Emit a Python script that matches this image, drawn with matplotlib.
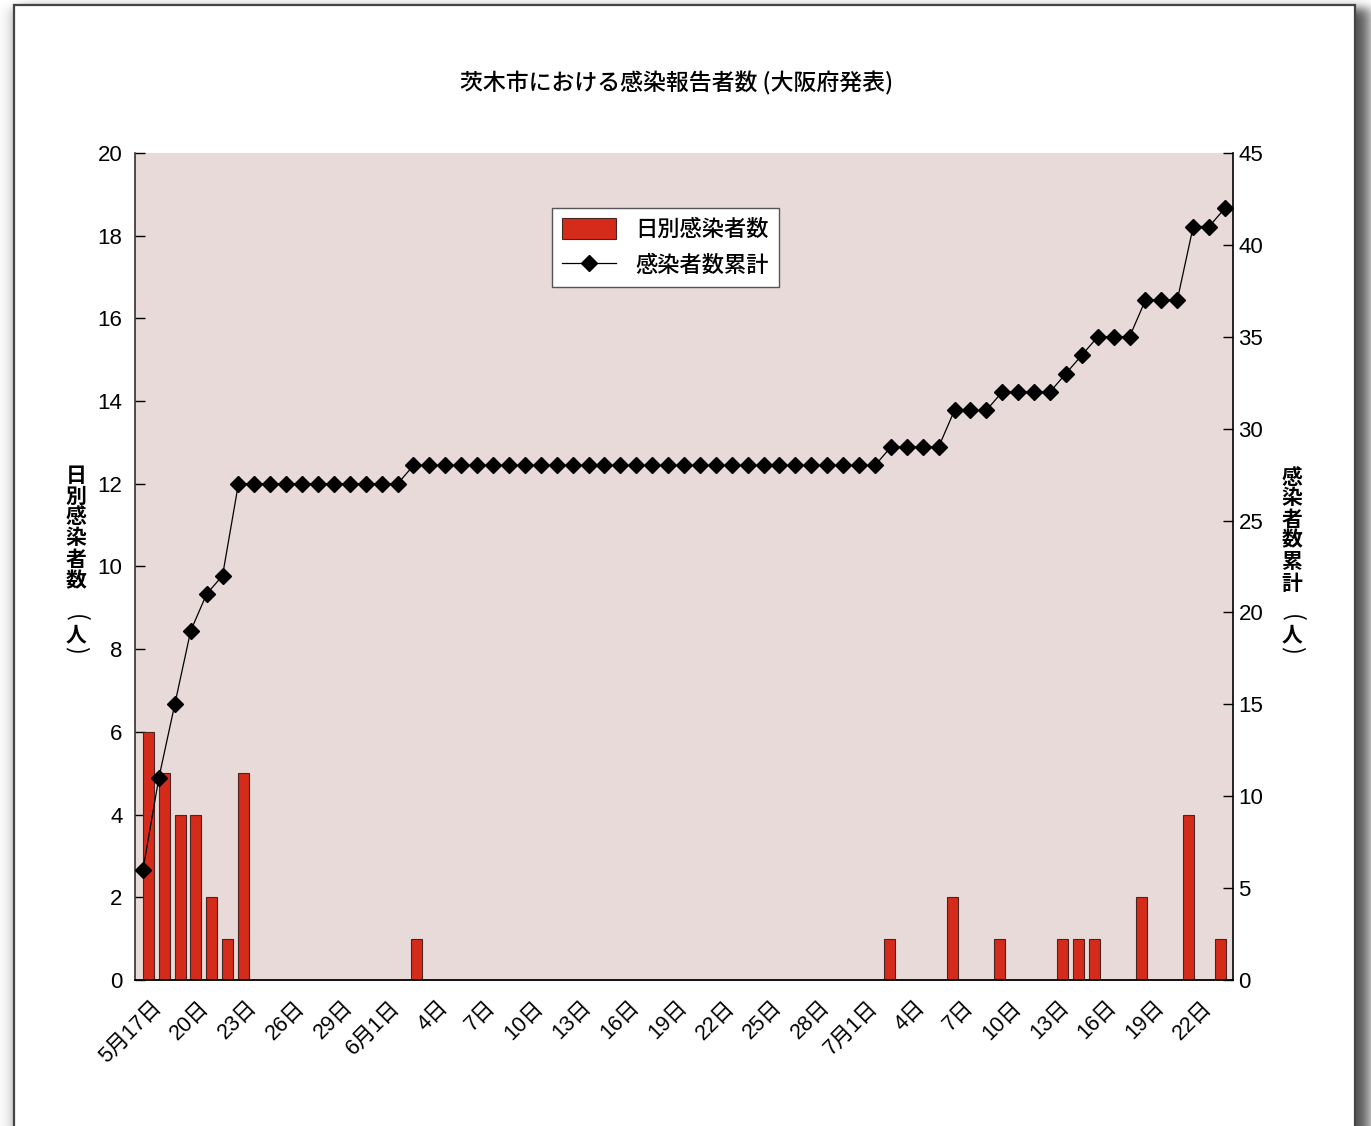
import numpy as np
import matplotlib
matplotlib.use("Agg")
import matplotlib.pyplot as plt
from matplotlib.patches import Rectangle
from matplotlib.lines import Line2D
from matplotlib.transforms import ScaledTranslation

plt.rcParams['font.family'] = ['Liberation Sans', 'Noto Sans CJK JP', 'DejaVu Sans']

# ---- data ---------------------------------------------------------------
title = '茨木市における感染報告者数 (大阪府発表)'
daily_name = '日別感染者数'
cum_name = '感染者数累計'
left_label = ['日', '別', '感', '染', '者', '数']
right_label = ['感', '染', '者', '数', '累', '計']

# daily reported cases, 5/17 .. 7/24
daily_cases = [6, 5, 4, 4, 2, 1, 5,
               0, 0, 0, 0, 0, 0, 0, 0, 0, 0,
               1,
               0, 0, 0, 0, 0, 0, 0, 0, 0, 0, 0, 0, 0, 0, 0, 0, 0, 0, 0, 0,
               0, 0, 0, 0, 0, 0, 0, 0, 0,
               1, 0, 0, 0, 2, 0, 0, 1, 0, 0, 0, 1, 1, 1, 0, 0, 2, 0, 0,
               4, 0, 1]

# cumulative total, 5/17 .. 7/24
cumulative = [6, 11, 15, 19, 21, 22,
              27, 27, 27, 27, 27, 27, 27, 27, 27, 27, 27,
              28, 28, 28, 28, 28, 28, 28, 28, 28, 28, 28, 28, 28, 28, 28,
              28, 28, 28, 28, 28, 28, 28, 28, 28, 28, 28, 28, 28, 28, 28,
              29, 29, 29, 29, 31, 31, 31, 32, 32, 32, 32, 33, 34, 35, 35, 35,
              37, 37, 37, 41, 41, 42]

tick_labels = ['5月17日', '20日', '23日', '26日', '29日', '6月1日', '4日', '7日',
               '10日', '13日', '16日', '19日', '22日', '25日', '28日', '7月1日',
               '4日', '7日', '10日', '13日', '16日', '19日', '22日']

left_ticks = [0, 2, 4, 6, 8, 10, 12, 14, 16, 18, 20]
right_ticks = [0, 5, 10, 15, 20, 25, 30, 35, 40, 45]

days = np.arange(len(daily_cases))

# ---- figure -------------------------------------------------------------
W, H = 1371, 1126
fig = plt.figure(figsize=(W / 100, H / 100), dpi=100)


def fx(px):
    return px / W


def fy(py):
    return 1 - py / H


# page with a soft drop shadow
bg = fig.add_axes([0, 0, 1, 1], zorder=0)
bg.set_xlim(0, W)
bg.set_ylim(H, 0)
bg.axis('off')
xx = np.arange(W) + 0.5
yy = np.arange(H) + 0.5
sx = 0.5 * (np.tanh((xx - 18) / 10) - np.tanh((xx - 1369) / 10))
sy = 0.5 * (np.tanh((yy - 8) / 6) + 1)
alpha = 0.72 * np.outer(sy, sx)
shadow = np.zeros((H, W, 4))
shadow[..., 3] = alpha
bg.imshow(shadow, extent=(0, W, H, 0), interpolation='bilinear', zorder=0)
bg.add_patch(Rectangle((14, 5), 1341, 1300, facecolor='white',
                       edgecolor='#444444', lw=1.6, zorder=1))

rect = [fx(135), fy(980), fx(1233) - fx(135), fy(153) - fy(980)]

# bars: daily counts
ax = fig.add_axes(rect, zorder=1)
ax.set_facecolor('#E8DAD8')
ax.bar(days, daily_cases, width=0.7, align='edge', color='#D52B1A',
       edgecolor='#4a2420', linewidth=0.8, zorder=2)
ax.set_xlim(-0.51, 69.16)
ax.set_ylim(0, 20)
ax.set_yticks(left_ticks)
ax.set_xticks([])
for s in ('top', 'right'):
    ax.spines[s].set_visible(False)
ax.spines['left'].set_color('#222222')
ax.spines['left'].set_linewidth(1.1)
ax.spines['bottom'].set_linewidth(1.3)
ax.tick_params(axis='y', direction='in', length=7, width=1.0,
               labelsize=16, pad=9)

# line: cumulative total
ax2 = fig.add_axes(rect, zorder=2)
ax2.set_facecolor('none')
line, = ax2.plot(days, cumulative, color='black', lw=0.9, marker='D',
                 ms=8.5, mfc='black', mec='black', zorder=3)
ax2.set_xlim(-0.5, 68.5)
ax2.set_ylim(0, 45)
ax2.yaxis.set_ticks_position('right')
ax2.set_yticks(right_ticks)
for s in ('top', 'left', 'bottom'):
    ax2.spines[s].set_visible(False)
ax2.spines['right'].set_linewidth(1.2)
ax2.tick_params(axis='y', direction='in', length=7, width=1.0,
                labelsize=16, pad=4)
ax2.set_xticks(days[::3])
ax2.set_xticklabels(tick_labels, rotation=45, ha='right', va='top',
                    fontsize=15.5)
ax2.tick_params(axis='x', length=0, pad=12)
shift = ScaledTranslation(23 / 100, 0, fig.dpi_scale_trans)
for lab in ax2.get_xticklabels():
    lab.set_transform(lab.get_transform() + shift)

# legend
bar_handle = Rectangle((0, 0), 1, 1, facecolor='#D52B1A', edgecolor='#4a2420',
                       linewidth=0.8)
line_handle = Line2D([], [], color='black', lw=0.9, marker='D', ms=8.5,
                     mfc='black', mec='black')
leg = ax2.legend([bar_handle, line_handle], [daily_name, cum_name],
                 loc='upper left', bbox_to_anchor=(fx(552), fy(208)),
                 bbox_transform=fig.transFigure, borderaxespad=0,
                 prop={'family': 'Noto Sans CJK JP', 'size': 16,
                       'weight': 'medium'},
                 handlelength=2.45, handleheight=1.05, handletextpad=0.85,
                 labelspacing=0.6, borderpad=0.45, fancybox=False,
                 framealpha=1, edgecolor='#555555')
leg.get_frame().set_linewidth(1.0)

# title
fig.text(fx(677), fy(83), title, ha='center', va='center', fontsize=16.5,
         family='Noto Sans CJK JP', weight='medium')

# vertical axis labels (stacked characters)
char_y = [475, 496, 517, 538, 559, 581]
for ch, y in zip(left_label, char_y):
    fig.text(fx(76), fy(y), ch, ha='center', va='center', fontsize=15,
             family='Noto Sans CJK JP', weight='bold')
for ch, y in zip(right_label, char_y):
    fig.text(fx(1292), fy(y + 2), ch, ha='center', va='center', fontsize=15,
             family='Noto Sans CJK JP', weight='bold')
for x0 in (76, 1292):
    fig.text(fx(x0), fy(618), '(', ha='center', va='center', rotation=-90,
             fontsize=17, family='Noto Sans CJK JP')
    fig.text(fx(x0), fy(635), '人', ha='center', va='center', fontsize=15,
             family='Noto Sans CJK JP', weight='bold')
    fig.text(fx(x0), fy(650), ')', ha='center', va='center', rotation=-90,
             fontsize=17, family='Noto Sans CJK JP')

fig.savefig('out.png', dpi=100)
